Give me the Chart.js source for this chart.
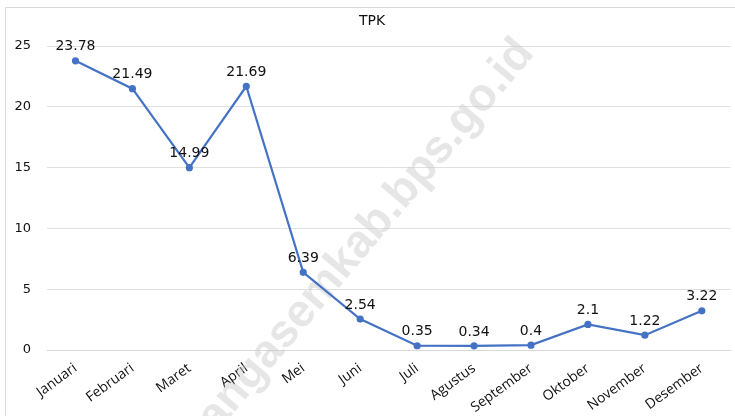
<!DOCTYPE html>
<html>
<head>
<meta charset="utf-8">
<script src="https://cdn.jsdelivr.net/npm/chart.js@4"></script>
<style>
  html, body { margin: 0; padding: 0; background: #fff; }
  #wrap { position: relative; width: 735px; height: 416px; }
</style>
</head>
<body>
<div id="wrap"><canvas id="tpkChart" width="735" height="416"></canvas></div>
<script>
// TPK per bulan
const months = ['Januari', 'Februari', 'Maret', 'April', 'Mei', 'Juni', 'Juli', 'Agustus', 'September', 'Oktober', 'November', 'Desember'];
const tpkValues = [23.78, 21.49, 14.99, 21.69, 6.39, 2.54, 0.35, 0.34, 0.4, 2.1, 1.22, 3.22];
const yTicks = [0, 5, 10, 15, 20, 25];

const labelFont = '14px "DejaVu Sans", Verdana, sans-serif';

// background, border, title and watermark
const backdrop = {
  id: 'backdrop',
  beforeDraw(chart) {
    const ctx = chart.ctx;
    ctx.save();
    ctx.fillStyle = '#fff';
    ctx.fillRect(0, 0, chart.width, chart.height);
    ctx.strokeStyle = '#d9d9d9';
    ctx.lineWidth = 1;
    ctx.strokeRect(5.5, 7.5, 733, 420);
    ctx.fillStyle = '#111';
    ctx.font = '14px "DejaVu Sans", Verdana, sans-serif';
    ctx.textAlign = 'center';
    ctx.textBaseline = 'middle';
    ctx.fillText('TPK', 372, 21);
    ctx.restore();
  },
  beforeDatasetsDraw(chart) {
    const ctx = chart.ctx;
    ctx.save();
    ctx.translate(344, 262);
    ctx.rotate(-50 * Math.PI / 180);
    ctx.fillStyle = 'rgba(200,200,200,0.45)';
    ctx.font = 'bold 46px "Liberation Sans", Arial, sans-serif';
    ctx.textAlign = 'center';
    ctx.textBaseline = 'middle';
    ctx.fillText('karangasemkab.bps.go.id', 0, 0);
    ctx.restore();
  }
};

// value labels above the points
const valueLabels = {
  id: 'valueLabels',
  afterDatasetsDraw(chart) {
    const ctx = chart.ctx;
    const meta = chart.getDatasetMeta(0);
    ctx.save();
    ctx.font = labelFont;
    ctx.fillStyle = '#111';
    ctx.textAlign = 'center';
    ctx.textBaseline = 'middle';
    meta.data.forEach((pt, i) => {
      ctx.fillText(String(tpkValues[i]), pt.x, pt.y - 14);
    });
    ctx.restore();
  }
};

const ctx = document.getElementById('tpkChart').getContext('2d');
new Chart(ctx, {
  type: 'line',
  data: {
    labels: months,
    datasets: [{
      label: 'TPK',
      data: tpkValues,
      borderColor: '#4472C4',
      backgroundColor: '#4472C4',
      borderWidth: 2.2,
      pointRadius: 2.5,
      pointHoverRadius: 2.5,
      tension: 0
    }]
  },
  options: {
    responsive: false,
    animation: false,
    layout: { padding: { top: 46, left: 0, right: 4, bottom: 0 } },
    plugins: {
      legend: { display: false },
      title: { display: false },
      tooltip: { enabled: false }
    },
    scales: {
      x: {
        offset: true,
        grid: { display: false },
        border: { color: '#d9d9d9' },
        ticks: {
          color: '#111',
          font: { family: '"Open Sans", sans-serif', size: 14 },
          minRotation: 36,
          maxRotation: 36,
          padding: 2
        },
        afterFit(scale) { scale.height = 66; }
      },
      y: {
        min: 0,
        max: 25,
        afterBuildTicks(scale) { scale.ticks = yTicks.map(v => ({ value: v })); },
        grid: { color: '#e0e0e0', drawTicks: false },
        border: { display: false },
        ticks: {
          color: '#111',
          font: { family: '"DejaVu Sans", Verdana, sans-serif', size: 13 },
          padding: 16
        },
        afterFit(scale) { scale.width = 47; }
      }
    }
  },
  plugins: [backdrop, valueLabels]
});
</script>
</body>
</html>
